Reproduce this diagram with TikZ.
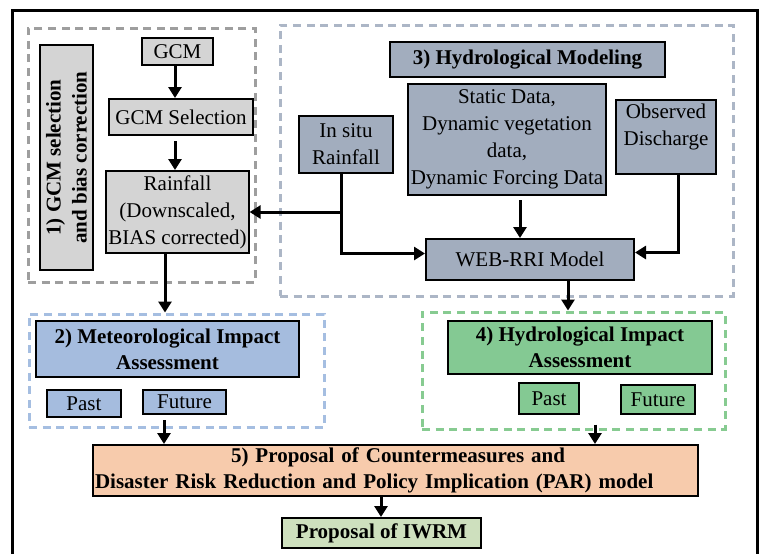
\documentclass[tikz,border=0pt]{standalone}
\usepackage{fontspec}
\setmainfont{Liberation Serif}
\usepackage{xcolor}
\usetikzlibrary{arrows.meta,calc}

\definecolor{gcmgray}{RGB}{212,212,212}
\definecolor{hydgray}{RGB}{162,173,190}
\definecolor{metblue}{RGB}{165,188,222}
\definecolor{hydgreen}{RGB}{132,201,147}
\definecolor{proppeach}{RGB}{247,203,172}
\definecolor{iwrmgreen}{RGB}{206,224,190}
\definecolor{dashgray}{RGB}{158,158,158}
\definecolor{dashslate}{RGB}{172,182,198}
\definecolor{dashblue}{RGB}{165,190,225}
\definecolor{dashgreen}{RGB}{135,203,145}

\tikzset{
  box/.style={draw, line width=1pt, inner sep=1pt, align=center,
    font=\fontsize{10.5}{13.5}\selectfont},
  title/.style={box, font=\fontsize{10.5}{13}\selectfont\bfseries},
  frame/.style={draw, dashed, line width=1.5pt, dash pattern=on 4pt off 2.8pt, inner sep=0pt},
  arr/.style={line width=1.5pt, -{Triangle[length=5.5pt,width=6.5pt]}}
}

\begin{document}
\begin{tikzpicture}[x=0.5pt, y=-0.5pt]

    % page and outer border
    \useasboundingbox (0,0) rectangle (761,554);
    \draw[line width=1.5pt] (12,554) |- (757,10) -- (757,554);

    % 1. dashed group frames
    \node[frame, dashgray,  minimum width=113.5pt, minimum height=127pt]   (grp1) at (141.5,155) {};
    \node[frame, dashslate, minimum width=226.5pt, minimum height=135.5pt] (grp3) at (506.5,160.5) {};
    \node[frame, dashblue,  minimum width=147.5pt, minimum height=56.5pt]  (grp2) at (176.5,370.5) {};
    \node[frame, dashgreen, minimum width=151.5pt, minimum height=58.5pt]  (grp4) at (573.5,370.5) {};

    % 2. GCM selection and bias correction
    \node[title, fill=gcmgray, rotate=90, minimum width=112.5pt, minimum height=26.5pt] (lab1) at (66.5,157.5) {1) GCM selection\\and bias correction};
    \node[box, fill=gcmgray, minimum width=35.5pt, minimum height=13.5pt] (gcm) at (177.5,51.5) {GCM};
    \node[box, fill=gcmgray, minimum width=72pt, minimum height=18pt] (gcmsel) at (181,117) {GCM Selection};
    \node[box, fill=gcmgray, minimum width=70.5pt, minimum height=41pt] (rain) at (177.5,212) {Rainfall\\(Downscaled,\\BIAS corrected)};

    % 3. Hydrological modeling
    \node[title, fill=hydgray, minimum width=137.5pt, minimum height=17.5pt] (hydmod) at (527.5,59.5) {3) Hydrological Modeling};
    \node[box, fill=hydgray, minimum width=99pt, minimum height=55.5pt] (static) at (507,139.5) {Static Data,\\Dynamic vegetation\\data,\\Dynamic Forcing Data};
    \node[box, fill=hydgray, minimum width=47pt, minimum height=28.5pt] (insitu) at (346,144.5) {In situ\\Rainfall};
    \node[box, fill=hydgray, minimum width=50pt, minimum height=37pt, anchor=north] (obs) at (666,99) {Observed\\Discharge\\[-1pt]};
    \node[box, fill=hydgray, minimum width=104pt, minimum height=20.5pt] (web) at (530,259.5) {WEB-RRI Model};

    % 4. impact assessments
    \node[title, fill=metblue, minimum width=131.5pt, minimum height=28pt] (meteo) at (167.5,349) {2) Meteorological Impact\\Assessment};
    \node[box, fill=metblue, minimum width=37pt, minimum height=13.5pt] (mpast) at (84,403.5) {Past};
    \node[box, fill=metblue, minimum width=41.5pt, minimum height=12pt] (mfut) at (184.5,402) {Future};
    \node[title, fill=hydgreen, minimum width=132pt, minimum height=26.5pt] (hydimp) at (580,347.5) {4) Hydrological Impact\\Assessment};
    \node[box, fill=hydgreen, minimum width=30pt, minimum height=15.5pt] (hpast) at (549,398.5) {Past};
    \node[box, fill=hydgreen, minimum width=37pt, minimum height=14.5pt] (hfut) at (658,399.5) {Future};

    % 5. proposals
    \node[title, fill=proppeach, text width=300.5pt, align=left, minimum height=25.5pt] (prop) at (395.5,470.5) {\hspace*{68pt}5) Proposal of Countermeasures and\\Disaster Risk Reduction and Policy Implication (PAR) model};
    \node[title, fill=iwrmgreen, minimum width=99.5pt, minimum height=15pt] (iwrm) at (381.5,533) {Proposal of IWRM};

    % 6. connectors
    \draw[arr] (gcm.south -| 175,0) -- (gcmsel.north -| 175,0);
    \draw[arr] (gcmsel.south -| 175,0) ++(0,5) -- (rain.north -| 175,0);
    \draw[arr] (rain.south -| 165,0) -- (grp2.north -| 165,0);

    \coordinate (split) at (insitu.south |- rain.east);
    \draw[arr] (insitu.south -| 341,0) |- ($(web.west)+(0,-6)$);
    \draw[arr] (split -| 341,0) -- (rain.east);
    \draw[arr] (static.south -| 520,0) ++(0,4) -- (web.north -| 520,0);
    \draw[arr] (obs.south -| 678,0) |- ($(web.east)+(0,-7)$);
    \draw[arr] (web.south -| 568,0) -- (grp4.north -| 568,0);

    \draw[arr] (mfut.south -| 164,0) ++(0,5) -- (prop.north -| 164,0);
    \draw[arr] (grp4.south -| 595,0) ++(0,-6) -- (prop.north -| 595,0);
    \draw[arr] (prop.south -| 381,0) -- (iwrm.north -| 381,0);

\end{tikzpicture}
\end{document}
